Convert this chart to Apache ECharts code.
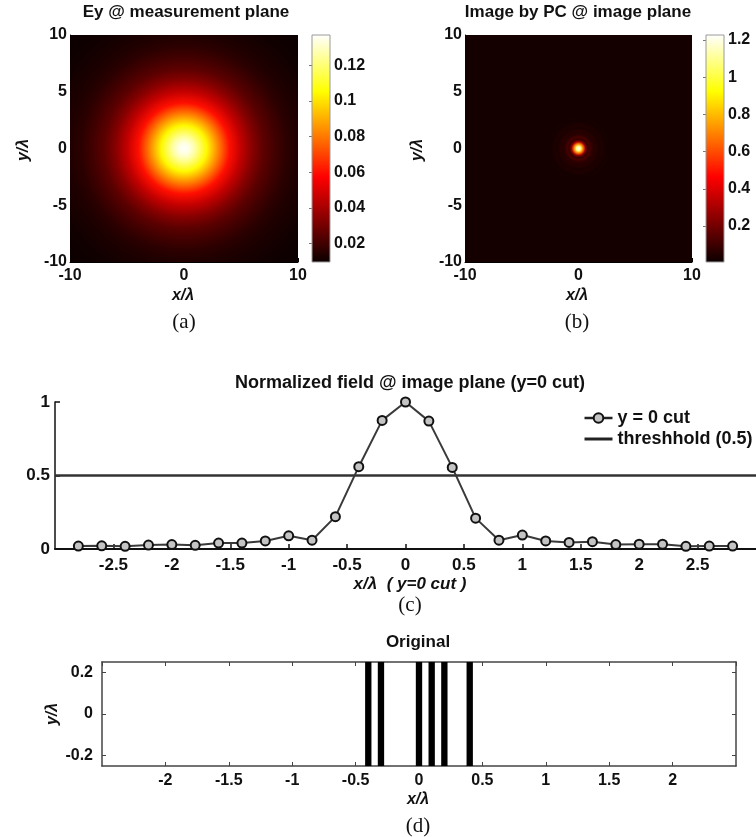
<!DOCTYPE html>
<html>
<head>
<meta charset="utf-8">
<script src="https://cdn.jsdelivr.net/npm/echarts@6/dist/echarts.min.js"></script>
<style>
  html, body { margin: 0; padding: 0; background: #ffffff; }
  #main { width: 756px; height: 837px; }
</style>
</head>
<body>
<div id="main"></div>
<script>
// ---------- data ----------
// (a) radial profile of Ey on the measurement plane (radius in wavelengths)
const radiusA = [0, 0.5, 1, 2, 3, 4, 5, 6, 7, 8, 9, 10, 12, 14.2];
const fieldA  = [0.137, 0.133, 0.125, 0.104, 0.082, 0.060, 0.044, 0.033, 0.025, 0.020, 0.016, 0.0135, 0.0108, 0.0097];
const rangeA  = [0.0097, 0.137];
const colorbarTicksA = [0.02, 0.04, 0.06, 0.08, 0.1, 0.12];

// (b) image reconstructed by the phase conjugator: peak value and colour range
const peakB   = 1.227;
const rangeB  = [0.006, 1.227];
const colorbarTicksB = [0.2, 0.4, 0.6, 0.8, 1, 1.2];

// shared extent of the two field maps
const mapExtent = [-10, 10];

// (c) normalized field along y = 0
const cutX = [-2.8, -2.6, -2.4, -2.2, -2.0, -1.8, -1.6, -1.4, -1.2, -1.0, -0.8, -0.6, -0.4, -0.2, 0,
              0.2, 0.4, 0.6, 0.8, 1.0, 1.2, 1.4, 1.6, 1.8, 2.0, 2.2, 2.4, 2.6, 2.8];
const cutY = [0.020, 0.022, 0.018, 0.027, 0.030, 0.025, 0.040, 0.040, 0.055, 0.090, 0.060, 0.220, 0.560, 0.875, 1.000,
              0.870, 0.555, 0.210, 0.060, 0.095, 0.055, 0.045, 0.050, 0.030, 0.033, 0.033, 0.018, 0.020, 0.020];
const cutExtent = [-3, 3];
const threshold = 0.5;

// (d) original object: slit centres and widths
const slitX = [-0.4, -0.3, 0, 0.1, 0.2, 0.4];
const slitWidth = 0.05;
const slitHalfHeight = 0.25;
const objExtentX = [-2.5, 2.5];
const objTicksY = [-0.2, 0, 0.2];

// ---------- helpers ----------
const FONT = "'Liberation Sans', Arial, Helvetica, sans-serif";
const SERIF = "'Liberation Serif', 'Times New Roman', serif";

// MATLAB "hot" colormap
function hot(t) {
  t = Math.max(0, Math.min(1, t));
  const r = Math.min(1, 0.042 + t / 0.375);
  const g = Math.max(0, Math.min(1, (t - 0.375) / 0.375));
  const b = Math.max(0, Math.min(1, (t - 0.75) / 0.25));
  return 'rgb(' + Math.round(r * 255) + ',' + Math.round(g * 255) + ',' + Math.round(b * 255) + ')';
}
const hotLinearStops = [0, 0.375, 0.75, 1].map(t => ({ offset: t, color: hot(t) }));

function radialStops(radii, values, range) {
  const rMax = radii[radii.length - 1];
  return radii.map((r, i) => ({
    offset: r / rMax,
    color: hot((values[i] - range[0]) / (range[1] - range[0]))
  }));
}

// radial profile of panel (b): symmetric average of the y=0 cut, scaled by the peak
const radiusB = [], fieldB = [];
cutX.forEach((x, i) => {
  if (x >= 0) {
    const j = cutX.findIndex(v => Math.abs(v + x) < 1e-9);
    radiusB.push(x);
    fieldB.push(peakB * (cutY[i] + cutY[j]) / 2);
  }
});

const stopsA = radialStops(radiusA, fieldA, rangeA);
const stopsB = radialStops(radiusB, fieldB, rangeB);

function fieldMapSeries(axisIdx, radii, stops) {
  return {
    type: 'custom',
    xAxisIndex: axisIdx, yAxisIndex: axisIdx === 0 ? 0 : 3,
    coordinateSystem: 'cartesian2d',
    silent: true,
    data: [[0, 0]],
    renderItem: function (params, api) {
      const c = api.coord([api.value(0), api.value(1)]);
      const tl = api.coord([mapExtent[0], mapExtent[1]]);
      const br = api.coord([mapExtent[1], mapExtent[0]]);
      const rpx = api.size([radii[radii.length - 1], 0])[0];
      return {
        type: 'rect',
        shape: { x: tl[0], y: tl[1], width: br[0] - tl[0], height: br[1] - tl[1] },
        style: {
          fill: { type: 'radial', x: c[0], y: c[1], r: rpx, global: true, colorStops: stops }
        }
      };
    }
  };
}

function colorbarSeries(xIdx, yIdx, range) {
  return {
    type: 'custom',
    xAxisIndex: xIdx, yAxisIndex: yIdx,
    coordinateSystem: 'cartesian2d',
    silent: true,
    data: [[0, range[0]]],
    renderItem: function (params, api) {
      const p0 = api.coord([0, range[1]]);
      const p1 = api.coord([1, range[0]]);
      return {
        type: 'rect',
        shape: { x: p0[0], y: p0[1], width: p1[0] - p0[0], height: p1[1] - p0[1] },
        style: {
          fill: { type: 'linear', x: 0, y: 1, x2: 0, y2: 0, colorStops: hotLinearStops },
          stroke: '#9a9a9a', lineWidth: 1
        }
      };
    }
  };
}

const tickLabel = (size) => ({ fontFamily: FONT, fontWeight: 'bold', fontSize: size, color: '#111' });

function mapAxes(grid) {
  return {
    x: {
      type: 'value', gridIndex: grid, min: mapExtent[0], max: mapExtent[1], interval: 10,
      axisLine: { onZero: false, lineStyle: { color: '#000', width: 1 } },
      axisTick: { inside: true, length: 4, lineStyle: { color: '#000' } },
      axisLabel: Object.assign({ margin: 6 }, tickLabel(16)),
      splitLine: { show: false }
    },
    y: {
      type: 'value', gridIndex: grid, min: mapExtent[0], max: mapExtent[1], interval: 5,
      axisLine: { onZero: false, lineStyle: { color: '#000', width: 1 } },
      axisTick: { inside: true, length: 4, lineStyle: { color: '#000' } },
      axisLabel: Object.assign({ margin: 3 }, tickLabel(16)),
      splitLine: { show: false }
    }
  };
}

function colorbarAxes(grid, range, ticks) {
  return {
    x: { type: 'value', gridIndex: grid, min: 0, max: 1, show: false },
    yRight: {
      type: 'value', gridIndex: grid, position: 'right', min: range[0], max: range[1],
      axisLine: { show: false },
      axisTick: { show: true, inside: true, length: 3, customValues: ticks, lineStyle: { color: '#777' } },
      axisLabel: Object.assign({ margin: 4, customValues: ticks }, tickLabel(16)),
      splitLine: { show: false }
    },
    yLeft: {
      type: 'value', gridIndex: grid, position: 'left', min: range[0], max: range[1],
      axisLine: { show: false },
      axisTick: { show: true, inside: true, length: 3, customValues: ticks, lineStyle: { color: '#777' } },
      axisLabel: { show: false },
      splitLine: { show: false }
    }
  };
}

const axA = mapAxes(0), cbA = colorbarAxes(1, rangeA, colorbarTicksA);
const axB = mapAxes(2), cbB = colorbarAxes(3, rangeB, colorbarTicksB);

const boxLine = { onZero: false, lineStyle: { color: '#444', width: 1.5 } };

const chart = echarts.init(document.getElementById('main'), null, { renderer: 'canvas' });

chart.setOption({
  backgroundColor: '#ffffff',
  animation: false,
  grid: [
    { left: 70,  top: 35,  width: 228, height: 227 },   // (a) map
    { left: 312, top: 35,  width: 18,  height: 227 },   // (a) colorbar
    { left: 465, top: 35,  width: 227, height: 227 },   // (b) map
    { left: 706, top: 35,  width: 18,  height: 227 },   // (b) colorbar
    { left: 55,  top: 402, right: -9,  height: 147 },   // (c) cut
    { left: 102, top: 662, width: 634, height: 104 }    // (d) object
  ],
  xAxis: [
    axA.x, cbA.x, axB.x, cbB.x,
    {
      type: 'value', gridIndex: 4, min: cutExtent[0], max: cutExtent[1], interval: 0.5,
      axisLine: { onZero: false, lineStyle: { color: '#111', width: 2 } },
      axisTick: { inside: true, length: 5, lineStyle: { color: '#111', width: 1.5 } },
      axisLabel: Object.assign({ margin: 8, showMinLabel: false, showMaxLabel: false }, tickLabel(17)),
      splitLine: { show: false }
    },
    {
      type: 'value', gridIndex: 5, min: objExtentX[0], max: objExtentX[1], interval: 0.5,
      axisLine: boxLine,
      axisTick: { inside: true, length: 4, lineStyle: { color: '#444' } },
      axisLabel: Object.assign({ margin: 7, showMinLabel: false, showMaxLabel: false }, tickLabel(16)),
      splitLine: { show: false }
    },
    {
      type: 'value', gridIndex: 5, position: 'top', min: objExtentX[0], max: objExtentX[1], interval: 0.5,
      axisLine: boxLine,
      axisTick: { inside: true, length: 4, lineStyle: { color: '#444' } },
      axisLabel: { show: false },
      splitLine: { show: false }
    }
  ],
  yAxis: [
    axA.y, cbA.yRight, cbA.yLeft,
    axB.y, cbB.yRight, cbB.yLeft,
    {
      type: 'value', gridIndex: 4, min: 0, max: 1, interval: 0.5,
      axisLine: { show: true, onZero: false, lineStyle: { color: '#111', width: 1.5 } },
      axisTick: { show: true, inside: true, length: 5, lineStyle: { color: '#111', width: 1.5 } },
      axisLabel: Object.assign({ margin: 5 }, tickLabel(17)),
      splitLine: { show: false }
    },
    {
      type: 'value', gridIndex: 5, min: -slitHalfHeight, max: slitHalfHeight,
      axisLine: Object.assign({ show: true }, boxLine),
      axisTick: { show: true, inside: true, length: 4, customValues: objTicksY, lineStyle: { color: '#444' } },
      axisLabel: Object.assign({ margin: 9, customValues: objTicksY }, tickLabel(16)),
      splitLine: { show: false }
    },
    {
      type: 'value', gridIndex: 5, position: 'right', min: -slitHalfHeight, max: slitHalfHeight,
      axisLine: Object.assign({ show: true }, boxLine),
      axisTick: { show: true, inside: true, length: 4, customValues: objTicksY, lineStyle: { color: '#444' } },
      axisLabel: { show: false },
      splitLine: { show: false }
    }
  ],
  legend: {
    orient: 'vertical',
    left: 578, top: 404,
    itemWidth: 28, itemHeight: 12, itemGap: 3,
    textStyle: { fontFamily: FONT, fontWeight: 'bold', fontSize: 18, color: '#111' },
    data: [
      { name: 'y = 0 cut', lineStyle: { width: 2.5, color: '#222' } },
      { name: 'threshhold (0.5)', itemStyle: { opacity: 0 }, lineStyle: { width: 3, color: '#222' } }
    ]
  },
  series: [
    fieldMapSeries(0, radiusA, stopsA),
    colorbarSeries(1, 1, rangeA),
    fieldMapSeries(2, radiusB, stopsB),
    colorbarSeries(3, 4, rangeB),
    {
      name: 'threshhold (0.5)', type: 'line', xAxisIndex: 4, yAxisIndex: 6,
      data: [[cutExtent[0], threshold], [cutExtent[1], threshold]],
      symbol: 'none',
      lineStyle: { color: '#333', width: 2.5 },
      itemStyle: { color: '#333' },
      z: 2
    },
    {
      name: 'y = 0 cut', type: 'line', xAxisIndex: 4, yAxisIndex: 6,
      data: cutX.map((x, i) => [x, cutY[i]]),
      symbol: 'circle', symbolSize: 9, showAllSymbol: true,
      lineStyle: { color: '#3a3a3a', width: 2 },
      itemStyle: { color: '#c4c4c4', borderColor: '#111', borderWidth: 2 },
      z: 3
    },
    {
      type: 'custom', xAxisIndex: 5, yAxisIndex: 7,
      coordinateSystem: 'cartesian2d',
      silent: true,
      data: slitX.map(x => [x]),
      renderItem: function (params, api) {
        const x = api.value(0);
        const p0 = api.coord([x - slitWidth / 2, slitHalfHeight]);
        const p1 = api.coord([x + slitWidth / 2, -slitHalfHeight]);
        return {
          type: 'rect',
          shape: { x: p0[0], y: p0[1], width: p1[0] - p0[0], height: p1[1] - p0[1] },
          style: { fill: '#000' }
        };
      }
    }
  ],
  graphic: [
    // panel titles
    { type: 'text', x: 186, y: 12, style: { text: 'Ey @ measurement plane', align: 'center', verticalAlign: 'middle', fontFamily: FONT, fontWeight: 'bold', fontSize: 17, fill: '#111' } },
    { type: 'text', x: 578, y: 12, style: { text: 'Image by PC @ image plane', align: 'center', verticalAlign: 'middle', fontFamily: FONT, fontWeight: 'bold', fontSize: 17, fill: '#111' } },
    { type: 'text', x: 410, y: 383, style: { text: 'Normalized field @ image plane (y=0 cut)', align: 'center', verticalAlign: 'middle', fontFamily: FONT, fontWeight: 'bold', fontSize: 18, fill: '#111' } },
    { type: 'text', x: 418, y: 642, style: { text: 'Original', align: 'center', verticalAlign: 'middle', fontFamily: FONT, fontWeight: 'bold', fontSize: 17, fill: '#111' } },
    // axis names
    { type: 'text', x: 24, y: 150, rotation: Math.PI / 2, style: { text: 'y/λ', align: 'center', verticalAlign: 'middle', fontFamily: FONT, fontWeight: 'bold', fontStyle: 'italic', fontSize: 16, fill: '#111' } },
    { type: 'text', x: 183, y: 296, style: { text: 'x/λ', align: 'center', verticalAlign: 'middle', fontFamily: FONT, fontWeight: 'bold', fontStyle: 'italic', fontSize: 16, fill: '#111' } },
    { type: 'text', x: 418, y: 150, rotation: Math.PI / 2, style: { text: 'y/λ', align: 'center', verticalAlign: 'middle', fontFamily: FONT, fontWeight: 'bold', fontStyle: 'italic', fontSize: 16, fill: '#111' } },
    { type: 'text', x: 577, y: 296, style: { text: 'x/λ', align: 'center', verticalAlign: 'middle', fontFamily: FONT, fontWeight: 'bold', fontStyle: 'italic', fontSize: 16, fill: '#111' } },
    { type: 'text', x: 410, y: 584, style: { text: 'x/λ  ( y=0 cut )', align: 'center', verticalAlign: 'middle', fontFamily: FONT, fontWeight: 'bold', fontStyle: 'italic', fontSize: 17, fill: '#111' } },
    { type: 'text', x: 53, y: 714, rotation: Math.PI / 2, style: { text: 'y/λ', align: 'center', verticalAlign: 'middle', fontFamily: FONT, fontWeight: 'bold', fontStyle: 'italic', fontSize: 16, fill: '#111' } },
    { type: 'text', x: 418, y: 800, style: { text: 'x/λ', align: 'center', verticalAlign: 'middle', fontFamily: FONT, fontWeight: 'bold', fontStyle: 'italic', fontSize: 16, fill: '#111' } },
    // panel letters
    { type: 'text', x: 184, y: 322, style: { text: '(a)', align: 'center', verticalAlign: 'middle', fontFamily: SERIF, fontSize: 21, fill: '#111' } },
    { type: 'text', x: 577, y: 322, style: { text: '(b)', align: 'center', verticalAlign: 'middle', fontFamily: SERIF, fontSize: 21, fill: '#111' } },
    { type: 'text', x: 410, y: 605, style: { text: '(c)', align: 'center', verticalAlign: 'middle', fontFamily: SERIF, fontSize: 21, fill: '#111' } },
    { type: 'text', x: 418, y: 826, style: { text: '(d)', align: 'center', verticalAlign: 'middle', fontFamily: SERIF, fontSize: 21, fill: '#111' } }
  ]
});
</script>
</body>
</html>
